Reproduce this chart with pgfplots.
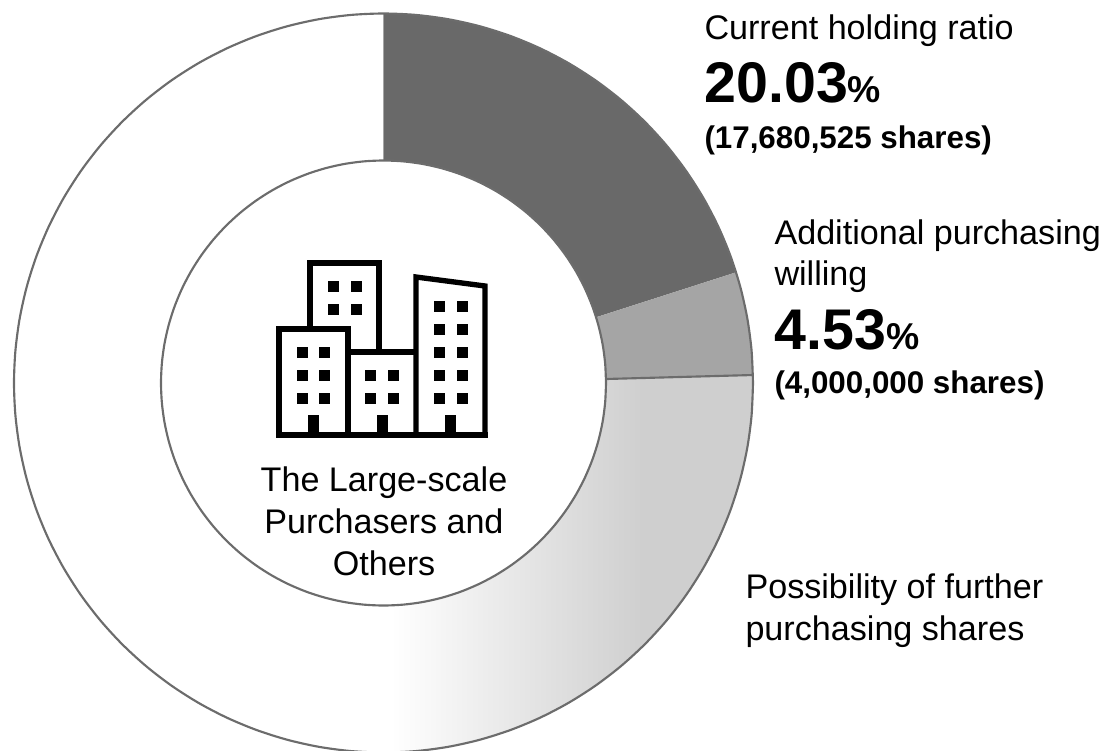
\documentclass[border=0pt]{standalone}
\usepackage{pgfplots}
\usepackage{pgfplotstable}
\pgfplotsset{compat=1.18}
\usepackage{fontspec}
\setmainfont{Liberation Sans}
\definecolor{segA}{RGB}{105,105,105}
\definecolor{segB}{RGB}{165,165,165}
\definecolor{segC}{RGB}{207,207,207}
\definecolor{ringline}{RGB}{108,108,108}
\pgfdeclarehorizontalshading{segshade}{100bp}{color(0bp)=(white); color(26bp)=(white); color(60bp)=(segC); color(100bp)=(segC)}
\newcommand{\txtreg}{\fontsize{25.6pt}{30pt}\selectfont}
\newcommand{\txtsub}{\fontsize{23.5pt}{28pt}\selectfont\bfseries}
\newcommand{\txtbig}{\fontsize{43pt}{50pt}\selectfont\bfseries}
\newcommand{\txtpct}{\fontsize{28pt}{30pt}\selectfont\bfseries}
\pgfplotstableread{
a r
0 369.5
5 369.5
10 369.5
15 369.5
20 369.5
25 369.5
30 369.5
35 369.5
40 369.5
45 369.5
50 369.5
55 369.5
60 369.5
65 369.5
70 369.5
75 369.5
80 369.5
85 369.5
90 369.5
95 369.5
100 369.5
105 369.5
110 369.5
115 369.5
120 369.5
125 369.5
130 369.5
135 369.5
140 369.5
145 369.5
150 369.5
155 369.5
160 369.5
165 369.5
170 369.5
175 369.5
180 369.5
185 369.5
190 369.5
195 369.5
200 369.5
205 369.5
210 369.5
215 369.5
220 369.5
225 369.5
230 369.5
235 369.5
240 369.5
245 369.5
250 369.5
255 369.5
260 369.5
265 369.5
270 369.5
275 369.5
280 369.5
285 369.5
290 369.5
295 369.5
300 369.5
305 369.5
310 369.5
315 369.5
320 369.5
325 369.5
330 369.5
335 369.5
340 369.5
345 369.5
350 369.5
355 369.5
360 369.5
}\outercircle
\pgfplotstableread{
a r
0 222.5
5 222.5
10 222.5
15 222.5
20 222.5
25 222.5
30 222.5
35 222.5
40 222.5
45 222.5
50 222.5
55 222.5
60 222.5
65 222.5
70 222.5
75 222.5
80 222.5
85 222.5
90 222.5
95 222.5
100 222.5
105 222.5
110 222.5
115 222.5
120 222.5
125 222.5
130 222.5
135 222.5
140 222.5
145 222.5
150 222.5
155 222.5
160 222.5
165 222.5
170 222.5
175 222.5
180 222.5
185 222.5
190 222.5
195 222.5
200 222.5
205 222.5
210 222.5
215 222.5
220 222.5
225 222.5
230 222.5
235 222.5
240 222.5
245 222.5
250 222.5
255 222.5
260 222.5
265 222.5
270 222.5
275 222.5
280 222.5
285 222.5
290 222.5
295 222.5
300 222.5
305 222.5
310 222.5
315 222.5
320 222.5
325 222.5
330 222.5
335 222.5
340 222.5
345 222.5
350 222.5
355 222.5
360 222.5
}\innercircle
\begin{document}
\begin{tikzpicture}
\useasboundingbox (0,0) rectangle (829.5pt,-562.5pt);
\begin{axis}[
  at={(0,0)}, anchor=north west,
  scale only axis, width=829.5pt, height=562.5pt,
  xmin=-383.5, xmax=722.5, ymin=-367, ymax=383,
  hide axis, clip=true,
  every axis plot/.append style={data cs=polar, line join=round},
]
% Current holding ratio 20.03%
\addplot[draw=none, fill=segA] coordinates {
 (90,369.5)(85,369.5)(80,369.5)(75,369.5)(70,369.5)(65,369.5)(60,369.5)(55,369.5)(50,369.5)(45,369.5)(40,369.5)(35,369.5)(30,369.5)(25,369.5)(20,369.5)(17.43,369.5)
 (17.18,222.5)(20,222.5)(25,222.5)(30,222.5)(35,222.5)(40,222.5)(45,222.5)(50,222.5)(55,222.5)(60,222.5)(65,222.5)(70,222.5)(75,222.5)(80,222.5)(85,222.5)(90,222.5)};
% Additional purchasing 4.53%
\addplot[draw=none, fill=segB] coordinates {
 (17.43,369.5)(15,369.5)(10,369.5)(5,369.5)(1.24,369.5)
 (1.03,222.5)(5,222.5)(10,222.5)(15,222.5)(17.18,222.5)};
% Possibility of further purchasing shares
\addplot[draw=none, shade, shading=segshade] coordinates {
 (1.24,369.5)(0,369.5)(-5,369.5)(-10,369.5)(-15,369.5)(-20,369.5)(-25,369.5)(-30,369.5)(-35,369.5)(-40,369.5)(-45,369.5)(-50,369.5)(-55,369.5)(-60,369.5)(-65,369.5)(-70,369.5)(-75,369.5)(-80,369.5)(-85,369.5)(-90,369.5)
 (-90,222.5)(-85,222.5)(-80,222.5)(-75,222.5)(-70,222.5)(-65,222.5)(-60,222.5)(-55,222.5)(-50,222.5)(-45,222.5)(-40,222.5)(-35,222.5)(-30,222.5)(-25,222.5)(-20,222.5)(-15,222.5)(-10,222.5)(-5,222.5)(0,222.5)(1.03,222.5)};
% outlines
\addplot[gray!70, line width=0.6pt, no marks] coordinates {(90,369.5)(90,222.5)};
\addplot[ringline, line width=1.6pt, no marks] coordinates {(1.24,369.5)(1.03,222.5)};
\addplot[ringline, line width=1.6pt, smooth, no marks] table[x=a,y=r] {\outercircle};
\addplot[ringline, line width=1.6pt, smooth, no marks] table[x=a,y=r] {\innercircle};
\end{axis}
\begin{scope}[x=0.75pt,y=-0.75pt]
% text
\tikzset{lab/.style={inner sep=0pt, outer sep=0pt, anchor=base west},
         mid/.style={inner sep=0pt, outer sep=0pt, anchor=base}}
\node[lab] at (704.5,39) {\txtreg Current holding ratio};
\node[lab] at (704.5,102) {\txtbig 20.03\txtpct\%};
\node[lab] at (704.5,148) {\txtsub (17,680,525 shares)};
\node[lab] at (774.5,244) {\txtreg Additional purchasing};
\node[lab] at (774.5,285) {\txtreg willing};
\node[lab] at (774.5,349) {\txtbig 4.53\txtpct\%};
\node[lab] at (774.5,393) {\txtsub (4,000,000 shares)};
\node[lab] at (745.5,598) {\txtreg Possibility of further};
\node[lab] at (745.5,640) {\txtreg purchasing shares};
\node[mid] at (384,491) {\txtreg The Large-scale};
\node[mid] at (384,533) {\txtreg Purchasers and};
\node[mid] at (384,575) {\txtreg Others};
% building icon
\begin{scope}[line width=4pt, line join=miter, draw=black]
\draw (310,329) -- (310,263) -- (379,263) -- (379,352);
\draw (279,435) -- (279,329) -- (348,329) -- (348,435);
\draw (348,352) -- (416,352);
\draw (416,435) -- (416,277) -- (485,286) -- (485,435);
\draw (276,435) -- (488,435);
\end{scope}
\foreach \x in {333,356} \foreach \y in {286,309} \fill (\x-5.5,\y-5.5) rectangle (\x+5.5,\y+5.5);
\foreach \x in {302,324} \foreach \y in {352,375,398} \fill (\x-5.5,\y-5.5) rectangle (\x+5.5,\y+5.5);
\foreach \x in {370,393} \foreach \y in {375,398} \fill (\x-5.5,\y-5.5) rectangle (\x+5.5,\y+5.5);
\foreach \x in {439,462} \foreach \y in {306,329,352,375,398} \fill (\x-5.5,\y-5.5) rectangle (\x+5.5,\y+5.5);
\foreach \x in {313,382,450} \fill (\x-5.5,415) rectangle (\x+5.5,435);
\end{scope}
\end{tikzpicture}
\end{document}
